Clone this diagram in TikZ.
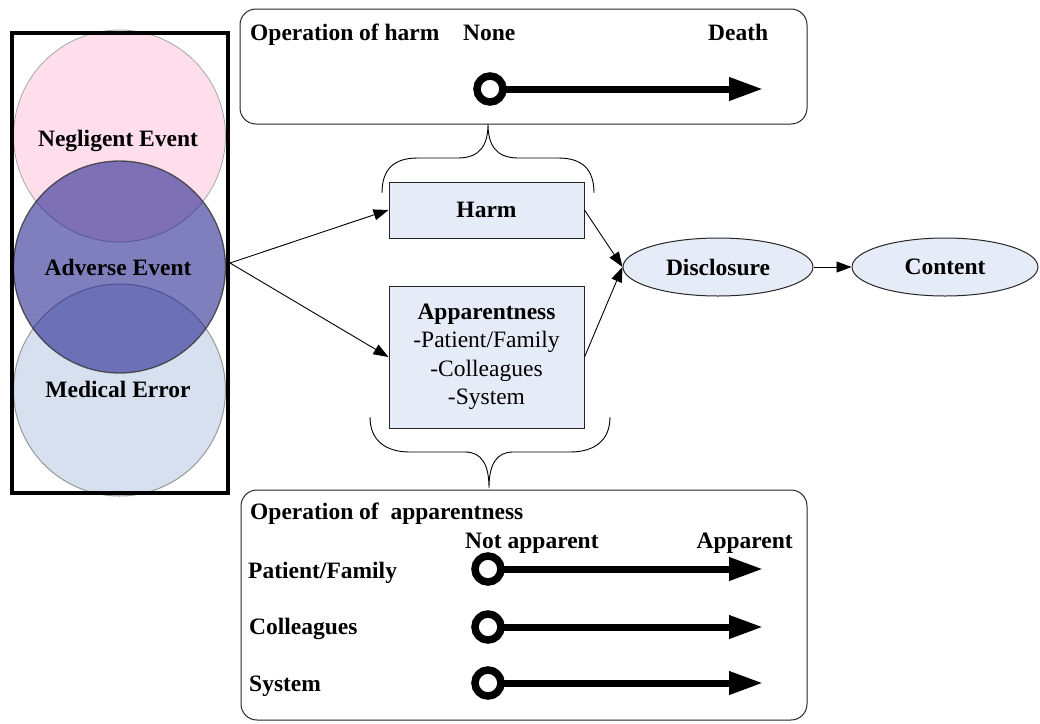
\documentclass[tikz,border=0pt]{standalone}
\usepackage{fontspec}
\setmainfont{Liberation Serif}
\usetikzlibrary{arrows.meta,shapes.geometric}
\definecolor{boxblue}{RGB}{230,236,247}
\definecolor{pinkfill}{RGB}{255,222,236}
\definecolor{medfill}{RGB}{214,224,239}
\definecolor{advfill}{RGB}{26,26,139}
\begin{document}
\begin{tikzpicture}[x=1pt,y=-1pt,
  txt/.style={font=\fontsize{23.5}{28.5}\selectfont, inner sep=0pt},
  btxt/.style={font=\fontsize{23.5}{28.5}\selectfont\bfseries, inner sep=0pt},
  venn/.style={circle, minimum size=212pt, inner sep=0pt},
  bluebox/.style={draw=black!85, fill=boxblue, line width=1pt, inner sep=0pt},
  opbox/.style={draw=black!85, rounded corners=16pt, line width=1pt, inner sep=0pt},
  conn/.style={line width=0.9pt, -{Triangle[length=15pt,width=11pt]}},
  bigarrow/.style={line width=7pt, -{Triangle[length=34pt,width=22pt]}},
  ring/.style={circle, draw, line width=7.5pt, fill=white, minimum size=26pt, inner sep=0pt},
  brace/.style={line width=0.9pt}
]
\useasboundingbox (0,0) rectangle (1040,723);

% Venn circles
\node[venn, draw=black!40, line width=1pt, fill=medfill] (me) at (119.5,390) {};
\node[venn, draw=black!35, line width=0.8pt, fill=pinkfill] (ne) at (119.5,136) {};
\node[venn, draw=black!80, line width=1.3pt, fill=advfill, fill opacity=0.56, draw opacity=0.8] (ae) at (119.5,267) {};
\node[btxt, anchor=base] (nelab) at (118,146) {Negligent Event};
\node[btxt, anchor=base] (aelab) at (118,275) {Adverse Event};
\node[btxt, anchor=base] (melab) at (118,397) {Medical Error};
\node[draw, line width=4pt, minimum width=216pt, minimum height=460pt, inner sep=0pt] (frame) at (120,263) {};

% operation of harm box
\node[opbox, minimum width=567pt, minimum height=115pt] (harmop) at (523.5,66.5) {};
\node[btxt, anchor=base west] (ophlab) at (250,40) {Operation of harm};
\node[btxt, anchor=base west] (none) at (463,40) {None};
\node[btxt, anchor=base west] (death) at (708,40) {Death};
\draw[bigarrow] (490,89) coordinate (s0) -- (763,89) coordinate (t0);
\node[ring] (r0) at (s0) {};

% braces
\draw[brace] (382,193) .. controls (382,168) and (395,158) .. (418,158) -- (458,158)
  .. controls (480,158) and (488,145) .. (488,124)
  .. controls (488,145) and (496,158) .. (518,158) -- (558,158)
  .. controls (581,158) and (594,168) .. (594,193);
\draw[brace] (370,417) .. controls (370,440) and (385,452) .. (410,452) -- (465,452)
  .. controls (482,452) and (489,465) .. (489,488)
  .. controls (489,465) and (496,452) .. (513,452) -- (570,452)
  .. controls (595,452) and (610,440) .. (610,417);

% middle boxes
\node[bluebox, btxt, minimum width=195pt, minimum height=56pt] (harm) at (486.5,210) {Harm};
\node[bluebox, txt, minimum width=195pt, minimum height=142pt, align=center] (app) at (486.5,357)
  {\textbf{Apparentness}\\-Patient/Family\\-Colleagues\\-System};
\node[ellipse, draw=black!85, fill=boxblue, line width=1pt, btxt, minimum width=190pt, minimum height=58pt] (disc) at (718,267) {Disclosure};
\node[ellipse, draw=black!85, fill=boxblue, line width=1pt, btxt, minimum width=186pt, minimum height=58pt] (cont) at (945,267) {Content};

\draw[conn] (frame.east) -- (harm.west);
\draw[conn] (frame.east) -- (app.west);
\draw[conn] (harm.east) -- (disc.west);
\draw[conn] (app.east) -- (disc.west);
\draw[conn] (disc.east) -- (cont.west);

% operation of apparentness box
\node[opbox, minimum width=566pt, minimum height=230pt] (appop) at (524,605) {};
\node[btxt, anchor=base west] (opalab) at (250,519) {Operation of~~apparentness};
\node[btxt, anchor=base west] (notapp) at (465,548) {Not apparent};
\node[btxt, anchor=base east] (apparent) at (793,548) {Apparent};
\node[btxt, anchor=base west] (pflab) at (248,578) {Patient/Family};
\node[btxt, anchor=base west] (colab) at (249,634) {Colleagues};
\node[btxt, anchor=base west] (sylab) at (249,691) {System};
\draw[bigarrow] (488,569) coordinate (s1) -- (763,569) coordinate (t1);
\draw[bigarrow] (488,627) coordinate (s2) -- (763,627) coordinate (t2);
\draw[bigarrow] (488,683) coordinate (s3) -- (763,683) coordinate (t3);
\node[ring] (r1) at (s1) {};
\node[ring] (r2) at (s2) {};
\node[ring] (r3) at (s3) {};
\end{tikzpicture}
\end{document}
